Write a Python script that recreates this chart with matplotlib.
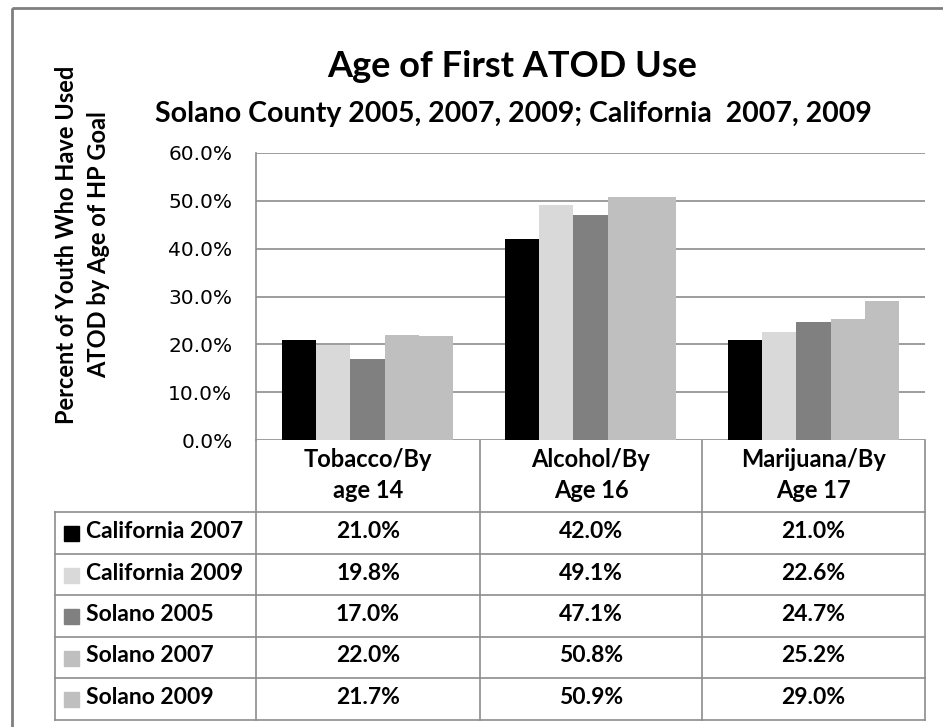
import matplotlib.pyplot as plt
import numpy as np
from matplotlib.patches import Rectangle

categories = [('Tobacco/By', 'age 14'), ('Alcohol/By', 'Age 16'), ('Marijuana/By', 'Age 17')]
series = ['California 2007', 'California 2009', 'Solano 2005', 'Solano 2007', 'Solano 2009']
california_2007 = [21.0, 42.0, 21.0]
california_2009 = [19.8, 49.1, 22.6]
solano_2005 = [17.0, 47.1, 24.7]
solano_2007 = [22.0, 50.8, 25.2]
solano_2009 = [21.7, 50.9, 29.0]
values = [california_2007, california_2009, solano_2005, solano_2007, solano_2009]
colors = ['#000000', '#d9d9d9', '#808080', '#bfbfbf', '#bfbfbf']

W, H = 943, 727
fig = plt.figure(figsize=(W / 100, H / 100), dpi=100)
plt.rcParams['font.family'] = ['Lato', 'DejaVu Sans']
lc = '#8c8c8c'

# overlay in pixel coordinates for frame, titles and data table
ov = fig.add_axes([0, 0, 1, 1])
ov.set_xlim(0, W)
ov.set_ylim(H, 0)
ov.axis('off')
ov.add_patch(Rectangle((12, 8), 960, 760, fill=False, ec='#7f7f7f', lw=2))

x_left, x_right, y_top, y_zero = 256, 925, 153, 440
ax = fig.add_axes([x_left / W, 1 - y_zero / H, (x_right - x_left) / W, (y_zero - y_top) / H])
x = np.arange(len(categories))
bw = 1 / 6.5
for i, (vals, c) in enumerate(zip(values, colors)):
    ax.bar(x + (i - 2) * bw, np.array(vals) / 100, width=bw, color=c, zorder=3)
ax.set_xlim(-0.5, 2.5)
ax.set_ylim(0, 0.6)
ticks = np.arange(0, 0.61, 0.1)
ax.set_yticks(ticks)
ax.set_yticklabels(['{:.1f}%'.format(v * 100) for v in ticks], fontsize=14.5, family='DejaVu Sans')
ax.tick_params(axis='y', length=0, pad=17)
ax.set_xticks([])
ax.grid(axis='y', color=lc, lw=1.2, zorder=0)
for s in ['top', 'right', 'bottom']:
    ax.spines[s].set_visible(False)
ax.spines['left'].set_color(lc)
ax.spines['left'].set_linewidth(1.2)

ov.text(512, 77, 'Age of First ATOD Use', fontsize=26, ha='center', va='baseline', weight='bold')
ov.text(513, 122, 'Solano County 2005, 2007, 2009; California  2007, 2009', fontsize=20.5,
        ha='center', va='baseline', weight='bold')
ov.text(67, 245, 'Percent of Youth Who Have Used', rotation=90, ha='center', va='center',
        fontsize=17, weight='bold')
ov.text(99, 245, 'ATOD by Age of HP Goal', rotation=90, ha='center', va='center',
        fontsize=17, weight='bold')

# data table
col_x = [256, 480, 702, 925]
row_y = [440, 512, 553.5, 595, 636.5, 678, 719.5]
for cx in col_x:
    ov.plot([cx, cx], [row_y[0], row_y[-1]], color=lc, lw=1.2)
ov.plot([55, 55], [row_y[1], row_y[-1]], color=lc, lw=1.2)
for ry in row_y[1:]:
    ov.plot([55, 925], [ry, ry], color=lc, lw=1.2)
for j, (l1, l2) in enumerate(categories):
    cx = (col_x[j] + col_x[j + 1]) / 2
    ov.text(cx, 467, l1, ha='center', va='baseline', fontsize=17, weight='bold')
    ov.text(cx, 498, l2, ha='center', va='baseline', fontsize=17, weight='bold')
for i, name in enumerate(series):
    top = row_y[i + 1]
    ov.add_patch(Rectangle((64, top + 14), 15, 15, color=colors[i]))
    ov.text(86, top + 26, name, ha='left', va='baseline', fontsize=16.5, weight='bold')
    for j in range(len(categories)):
        ov.text((col_x[j] + col_x[j + 1]) / 2, top + 26, '{:.1f}%'.format(values[i][j]),
                ha='center', va='baseline', fontsize=16.5, weight='bold')

fig.savefig('out.png', dpi=100)
